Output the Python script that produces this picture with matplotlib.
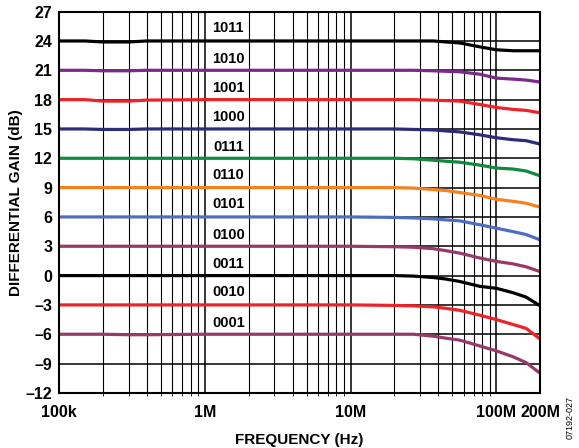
import matplotlib.pyplot as plt
import numpy as np

plt.rcParams['font.family'] = ['Liberation Sans', 'DejaVu Sans']

# frequency points (Hz)
freq = [1e5, 1.5e5, 2e5, 3e5, 4e5, 1e6, 3e6, 1e7, 2e7, 27e6, 37e6, 45e6, 56e6, 77e6, 100e6, 130e6, 160e6, 200e6]

g1011 = [24.0, 24.0, 23.9, 23.9, 24.0, 24.0, 24.0, 24.0, 24.0, 24.0, 24.0, 23.9, 23.8, 23.4, 23.1, 23.0, 23.0, 23.0]
g1010 = [21.0, 21.0, 20.95, 20.95, 21.0, 21.0, 21.0, 21.0, 21.0, 21.0, 20.95, 20.9, 20.85, 20.6, 20.2, 20.1, 20.0, 19.8]
g1001 = [18.0, 18.0, 17.85, 17.85, 17.95, 18.0, 18.0, 18.0, 18.0, 18.0, 17.95, 17.9, 17.85, 17.5, 17.2, 17.0, 16.9, 16.65]
g1000 = [15.0, 15.0, 14.95, 14.95, 15.0, 15.0, 15.0, 15.0, 15.0, 14.95, 14.9, 14.8, 14.7, 14.4, 14.1, 13.9, 13.8, 13.45]
g0111 = [12.0, 12.0, 12.0, 12.0, 12.0, 12.0, 12.0, 12.0, 12.0, 11.95, 11.8, 11.7, 11.6, 11.3, 11.0, 10.9, 10.7, 10.2]
g0110 = [9.0, 9.0, 9.0, 9.0, 9.0, 9.0, 9.0, 9.0, 9.0, 8.95, 8.8, 8.7, 8.5, 8.2, 7.8, 7.6, 7.4, 7.0]
g0101 = [6.0, 6.0, 6.0, 6.0, 6.0, 6.0, 6.0, 6.0, 5.95, 5.9, 5.8, 5.7, 5.6, 5.2, 4.85, 4.5, 4.2, 3.65]
g0100 = [3.0, 3.0, 3.0, 3.0, 3.0, 3.0, 3.0, 3.0, 2.95, 2.9, 2.75, 2.55, 2.3, 1.8, 1.45, 1.2, 0.9, 0.4]
g0011 = [0.0, 0.0, 0.0, 0.0, 0.0, 0.0, 0.0, 0.0, 0.0, -0.05, -0.2, -0.35, -0.6, -1.1, -1.3, -1.75, -2.2, -3.1]
g0010 = [-3.0, -3.0, -3.0, -3.0, -3.0, -3.0, -3.0, -3.0, -3.05, -3.1, -3.2, -3.35, -3.55, -4.05, -4.5, -5.0, -5.4, -6.5]
g0001 = [-6.0, -6.0, -6.0, -6.05, -6.05, -6.0, -6.0, -6.0, -6.0, -6.0, -6.2, -6.4, -6.6, -7.2, -7.7, -8.3, -8.9, -10.0]

series = [g1011, g1010, g1001, g1000, g0111, g0110, g0101, g0100, g0011, g0010, g0001]
codes = ['1011', '1010', '1001', '1000', '0111', '0110', '0101', '0100', '0011', '0010', '0001']
colors = ['#000000', '#7B2A8A', '#EE2229', '#2B2D78', '#0F8A3E', '#F58220',
          '#4D6EC0', '#963A6C', '#000000', '#EE2229', '#963A6C']
label_y = [25.3, 22.2, 19.2, 16.2, 13.2, 10.3, 7.3, 4.2, 1.2, -1.7, -4.8]

yticks = list(range(-12, 28, 3))
ylabels = [str(v).replace('-', '\u2013') for v in yticks]
xticks = [1e5, 1e6, 1e7, 1e8, 2e8]
xlabels = ['100k', '1M', '10M', '100M', '200M']

fig = plt.figure(figsize=(5.79, 4.48), dpi=100)
ax = fig.add_axes([0.102, 0.123, 0.831, 0.851])

for g, c in zip(series, colors):
    ax.plot(freq, g, color=c, lw=2.3, solid_capstyle='butt')

for code, yl in zip(codes, label_y):
    ax.text(1.45e6, yl, code, fontsize=10.5, fontweight='bold', ha='center', va='center',
            bbox=dict(facecolor='white', edgecolor='none', pad=0.5))

ax.set_xscale('log')
ax.set_xlim(1e5, 2e8)
ax.set_ylim(-12, 27)
ax.set_yticks(yticks)
ax.set_yticklabels(ylabels)
ax.set_xticks(xticks)
ax.set_xticklabels(xlabels)
ax.xaxis.set_minor_locator(plt.matplotlib.ticker.LogLocator(base=10, subs=np.arange(2, 10)))
ax.xaxis.set_minor_formatter(plt.NullFormatter())
ax.grid(True, which='major', color='black', lw=1.1)
ax.grid(True, which='minor', axis='x', color='black', lw=0.8)
ax.tick_params(length=0, labelsize=11.5)
ax.tick_params(axis='x', pad=9)
ax.tick_params(axis='y', pad=5)
for lbl in ax.get_xticklabels() + ax.get_yticklabels():
    lbl.set_fontweight('bold')
for s in ax.spines.values():
    s.set_linewidth(1.5)
ax.set_axisbelow(True)

ax.set_xlabel('FREQUENCY (Hz)', fontsize=11, fontweight='bold', labelpad=9)
ax.set_ylabel('DIFFERENTIAL GAIN (dB)', fontsize=11, fontweight='bold', labelpad=2)
fig.text(0.985, 0.02, '07192-027', rotation=90, fontsize=6.5, ha='center', va='bottom')

fig.savefig('out.png', dpi=100)
